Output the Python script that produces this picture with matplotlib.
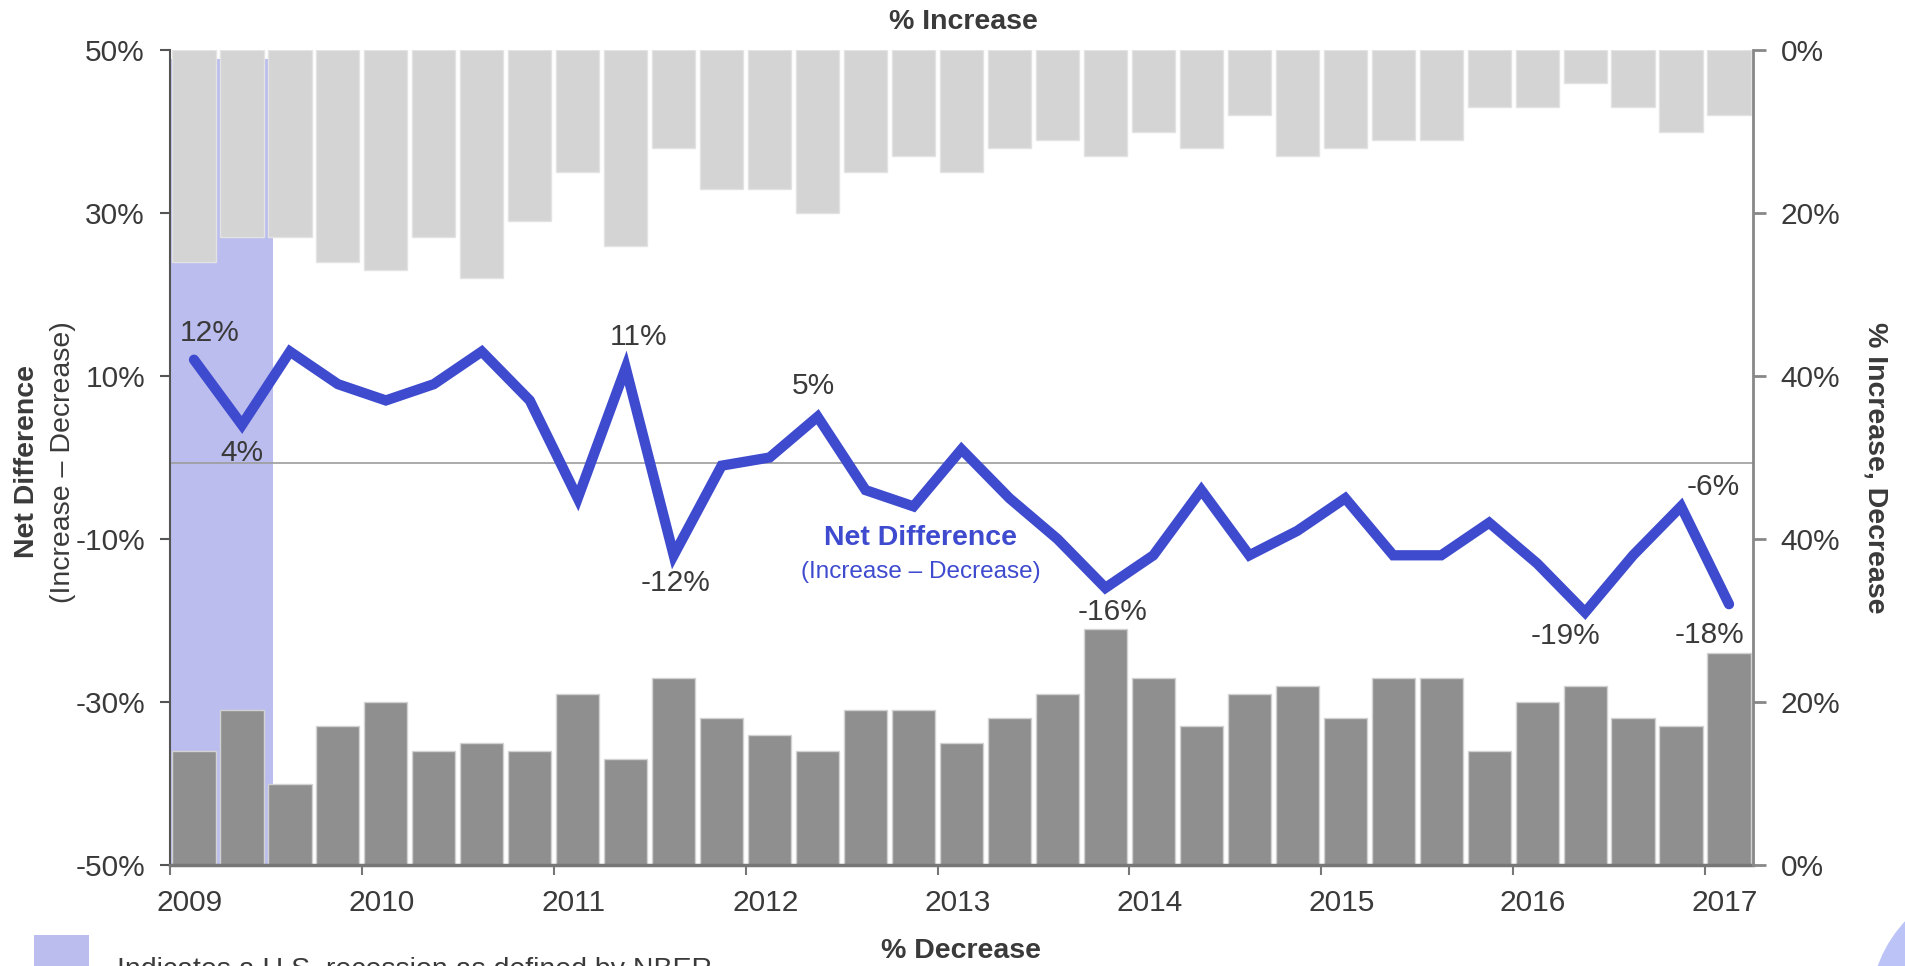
import matplotlib
matplotlib.use("Agg")
import matplotlib.pyplot as plt
import matplotlib.transforms as mtransforms
from matplotlib.patches import Rectangle, Circle
import numpy as np

plt.rcParams["font.family"] = ["Liberation Sans", "DejaVu Sans"]

# quarterly survey, 2009 Q1 .. 2017 Q1 (one value per quarter)
years = ["2009", "2010", "2011", "2012", "2013", "2014", "2015", "2016", "2017"]
pct_increase = [26, 23, 23, 26, 27, 23, 28, 21, 15, 24, 12, 17, 17, 20, 15, 13, 15,
                12, 11, 13, 10, 12, 8, 13, 12, 11, 11, 7, 7, 4, 7, 10, 8]
pct_decrease = [14, 19, 10, 17, 20, 14, 15, 14, 21, 13, 23, 18, 16, 14, 19, 19, 15,
                18, 21, 29, 23, 17, 21, 22, 18, 23, 23, 14, 20, 22, 18, 17, 26]
net_difference = [12, 4, 13, 9, 7, 9, 13, 7, -5, 11, -12, -1, 0, 5, -4, -6, 1,
                  -5, -10, -16, -12, -4, -12, -9, -5, -12, -12, -8, -13, -19, -12, -6, -18]

# quarters whose net value gets a text label
labeled_quarters = [0, 1, 9, 10, 13, 19, 29, 31, 32]
recession_end = 2.15  # NBER recession ends mid 2009 (in quarters from 2009 Q1)

# label offsets in points, relative to the line vertex
label_offsets = {0: (11, 19), 1: (0, -20), 9: (9, 22), 10: (1, -20), 13: (-3, 22),
                 19: (5, -17), 29: (-14, -17), 31: (23, 14), 32: (-14, -22)}

line_color = "#3f4bcf"
shade_color = "#bbbdee"
text_color = "#3a3a3a"
tick_size = 21.5

W, H = 1906, 966
fig = plt.figure(figsize=(W / 100, H / 100), dpi=100)
ax = fig.add_axes([170 / W, 1 - 865 / H, 1583 / W, 815 / H])

n = len(net_difference)
x = np.arange(n) + 0.5
inc = np.array(pct_increase)
dec = np.array(pct_decrease)

ax.set_xlim(0, n)
ax.set_ylim(-50, 50)

# recession band, behind everything
ax.axvspan(0, recession_end, ymin=0, ymax=0.989, color=shade_color, lw=0, zorder=0)

# increase bars hang from the top, decrease bars stand on the bottom
ax.bar(x, inc, bottom=50 - inc, width=0.9, color="#d4d4d4",
       edgecolor="#e3e3e3", linewidth=1, zorder=1)
ax.bar(x, dec, bottom=-50, width=0.9, color="#8f8f8f",
       edgecolor="#d2d2d2", linewidth=1, zorder=1)

ax.axhline(-0.7, color="#9c9c9c", lw=1.2, zorder=2)

ax.plot(x, net_difference, color=line_color, lw=7.4,
        solid_capstyle="round", solid_joinstyle="miter", zorder=3)

for i in labeled_quarters:
    v = net_difference[i]
    ax.annotate(f"{v}%", (x[i], v), xytext=label_offsets[i],
                textcoords="offset points", ha="center", va="center",
                fontsize=tick_size, color=text_color, zorder=4)

ax.text(0.474, 0.401, "Net Difference", transform=ax.transAxes, ha="center",
        va="center", fontsize=20.5, fontweight="bold", color=line_color)
ax.text(0.474, 0.359, "(Increase \u2013 Decrease)", transform=ax.transAxes,
        ha="center", va="center", fontsize=17.5, color=line_color)

# left axis: net difference
ax.set_yticks([50, 30, 10, -10, -30, -50])
ax.set_yticklabels(["50%", "30%", "10%", "-10%", "-30%", "-50%"])
ax.set_xticks(np.arange(0, n, 4))
ax.set_xticklabels(years)
ax.tick_params(axis="y", length=7, width=1.5, color="#555555", pad=11,
               labelsize=tick_size, labelcolor=text_color)
ax.tick_params(axis="x", length=7, width=1.5, color="#777777", pad=10,
               labelsize=tick_size, labelcolor=text_color)
shift = mtransforms.ScaledTranslation(0.2, 0, fig.dpi_scale_trans)
for lbl in ax.get_xticklabels():
    lbl.set_transform(lbl.get_transform() + shift)

for side in ["top", "right"]:
    ax.spines[side].set_visible(False)
ax.spines["left"].set_color("#555555")
ax.spines["left"].set_linewidth(1.5)
ax.spines["bottom"].set_color("#777777")
ax.spines["bottom"].set_linewidth(2.5)

# right axis: bar percentages, measured from top and bottom
ax2 = ax.twinx()
ax2.set_ylim(-50, 50)
ax2.set_yticks([50, 30, 10, -10, -30, -50])
ax2.set_yticklabels(["0%", "20%", "40%", "40%", "20%", "0%"])
ax2.tick_params(axis="y", length=9, width=2, color="#888888", pad=11,
                labelsize=tick_size, labelcolor=text_color)
for side in ["top", "left", "bottom"]:
    ax2.spines[side].set_visible(False)
ax2.spines["right"].set_color("#888888")
ax2.spines["right"].set_linewidth(2)

fig.text(963 / W, 1 - 22 / H, "% Increase", ha="center", va="center",
         fontsize=20.5, fontweight="bold", color=text_color)
fig.text(961 / W, 1 - 951 / H, "% Decrease", ha="center", va="center",
         fontsize=20.5, fontweight="bold", color=text_color)

fig.text(27 / W, 1 - 462 / H, "Net Difference", rotation=90, ha="center",
         va="center", fontsize=20.5, fontweight="bold", color=text_color)
fig.text(63 / W, 1 - 462 / H, "(Increase \u2013 Decrease)", rotation=90,
         ha="center", va="center", fontsize=20.5, color=text_color)
fig.text(1876 / W, 1 - 468 / H, "% Increase, Decrease", rotation=270,
         ha="center", va="center", fontsize=20.5, fontweight="bold", color=text_color)

# legend for the shaded band
fig.add_artist(Rectangle((34 / W, -0.02), 55 / W, 31 / H + 0.02,
                         transform=fig.transFigure, color=shade_color, lw=0))
fig.text(117 / W, 1 - 957 / H, "Indicates a U.S. recession as defined by NBER",
         va="top", ha="left", fontsize=20.5, color=text_color)

fig.add_artist(Circle((20.0, -0.44), 1.30, transform=fig.dpi_scale_trans,
                      color="#bbc3f7", lw=0))

fig.savefig("out.png", dpi=100)
